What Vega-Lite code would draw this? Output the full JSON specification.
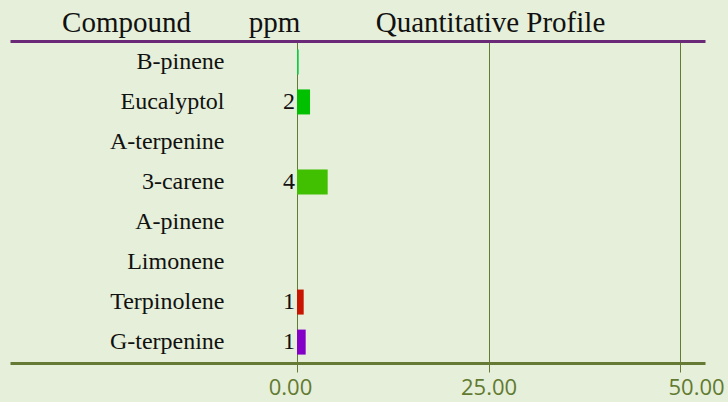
{
  "$schema": "https://vega.github.io/schema/vega-lite/v6.json",
  "width": 695,
  "height": 322,
  "autosize": "none",
  "padding": {"left": 10, "top": 41, "right": 23, "bottom": 39},
  "background": "#e5efd9",
  "config": {"view": {"stroke": null}},
  "data": {
    "values": [
      {"Compound": "B-pinene", "ppm": 0.22, "label": ""},
      {"Compound": "Eucalyptol", "ppm": 1.7, "label": "2"},
      {"Compound": "A-terpenine", "ppm": 0, "label": ""},
      {"Compound": "3-carene", "ppm": 4.0, "label": "4"},
      {"Compound": "A-pinene", "ppm": 0, "label": ""},
      {"Compound": "Limonene", "ppm": 0, "label": ""},
      {"Compound": "Terpinolene", "ppm": 0.87, "label": "1"},
      {"Compound": "G-terpenine", "ppm": 1.13, "label": "1"}
    ]
  },
  "resolve": {"axis": {"x": "independent", "y": "independent"}},
  "layer": [
    {
      "mark": {"type": "bar"},
      "encoding": {
        "y": {
          "field": "Compound",
          "type": "nominal",
          "sort": null,
          "scale": {"paddingInner": 0.375, "paddingOuter": 0.21, "align": 0.5},
          "axis": {
            "orient": "left",
            "domain": false,
            "ticks": false,
            "tickSize": 0,
            "labelPadding": -214,
            "labelFont": "Liberation Serif",
            "labelFontSize": 24,
            "labelColor": "#111111",
            "title": "Compound",
            "titleFont": "Liberation Serif",
            "titleFontSize": 29,
            "titleFontWeight": "normal",
            "titleColor": "#111111",
            "titleAngle": 0,
            "titleAlign": "center",
            "titleBaseline": "alphabetic",
            "titleX": 116,
            "titleY": -10
          }
        },
        "x": {
          "field": "ppm",
          "type": "quantitative",
          "scale": {"domain": [-37.47, 53.26], "nice": false, "zero": false},
          "axis": {
            "orient": "bottom",
            "values": [0, 25, 50],
            "format": ".2f",
            "grid": true,
            "gridColor": "#667a35",
            "gridWidth": 1,
            "gridOpacity": 1,
            "domain": true,
            "domainColor": "#667a35",
            "domainWidth": 3,
            "ticks": true,
            "tickSize": 9,
            "tickColor": "#667a35",
            "tickWidth": 1,
            "labelColor": "#627a30",
            "labelFont": "Open Sans",
            "labelFontSize": 22,
            "labelPadding": 5,
            "labelOffset": {"condition": [{"test": "datum.value === 0", "value": -7}, {"test": "datum.value === 50", "value": 16}], "value": 0},
            "title": null
          }
        },
        "x2": {"datum": 0},
        "color": {
          "field": "Compound",
          "type": "nominal",
          "legend": null,
          "scale": {
            "domain": ["B-pinene", "Eucalyptol", "A-terpenine", "3-carene", "A-pinene", "Limonene", "Terpinolene", "G-terpenine"],
            "range": ["#10cc48", "#00c000", "#40c000", "#40c000", "#40c000", "#40c000", "#c81400", "#8400c8"]
          }
        }
      }
    },
    {
      "mark": {"type": "text", "align": "right", "baseline": "middle", "dx": -2, "font": "Liberation Serif", "fontSize": 24, "color": "#111111"},
      "encoding": {
        "y": {
          "field": "Compound",
          "type": "nominal",
          "sort": null,
          "axis": {
            "orient": "right",
            "domain": false,
            "ticks": false,
            "labels": false,
            "title": "ppm",
            "titleFont": "Liberation Serif",
            "titleFontSize": 29,
            "titleFontWeight": "normal",
            "titleColor": "#111111",
            "titleAngle": 0,
            "titleAlign": "center",
            "titleBaseline": "alphabetic",
            "titleX": -431,
            "titleY": -10
          }
        },
        "x": {
          "datum": 0,
          "type": "quantitative",
          "axis": {
            "orient": "top",
            "values": [0, 25, 50],
            "grid": false,
            "domain": true,
            "domainColor": "#6a2a78",
            "domainWidth": 3,
            "ticks": false,
            "labels": false,
            "title": "Quantitative Profile",
            "titleFont": "Liberation Serif",
            "titleFontSize": 29,
            "titleFontWeight": "normal",
            "titleColor": "#111111",
            "titleAlign": "center",
            "titleBaseline": "alphabetic",
            "titleX": 480,
            "titleY": -10
          }
        },
        "text": {"field": "label"}
      }
    }
  ]
}
